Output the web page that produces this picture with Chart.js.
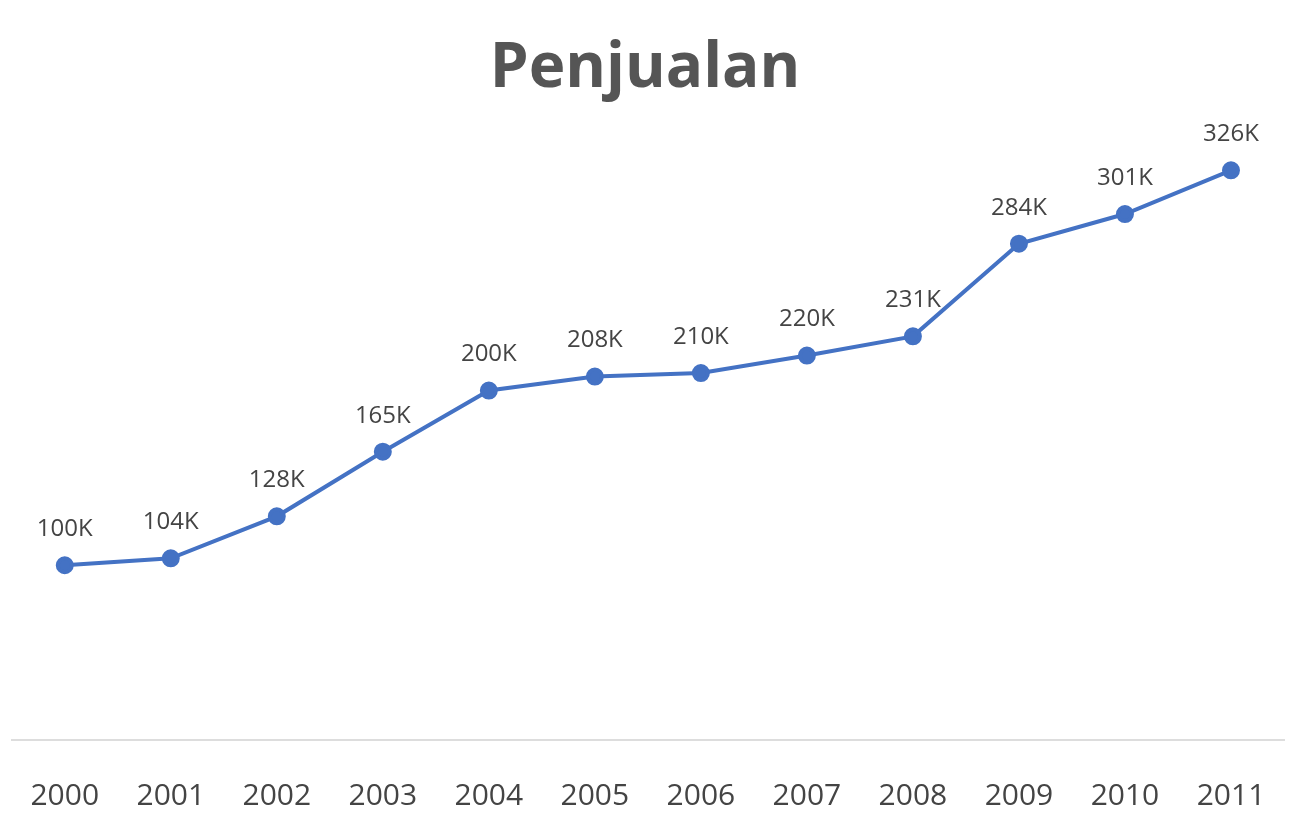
<!DOCTYPE html>
<html>
<head>
<meta charset="UTF-8" />
<style>
  html, body { margin: 0; padding: 0; background: #fff; }
  #wrap { width: 1296px; height: 816px; }
</style>
</head>
<body>
<div id="wrap"><canvas id="c" width="1296" height="816"></canvas></div>
<script src="https://cdn.jsdelivr.net/npm/chart.js"></script>
<script>
  const years = ['2000','2001','2002','2003','2004','2005','2006','2007','2008','2009','2010','2011'];
  const sales = [100, 104, 128, 165, 200, 208, 210, 220, 231, 284, 301, 326];

  // simple value labels above points
  const valueLabels = {
    id: 'valueLabels',
    afterDatasetsDraw(chart) {
      const ctx = chart.ctx;
      const meta = chart.getDatasetMeta(0);
      ctx.save();
      ctx.font = '24px "Open Sans", sans-serif';
      ctx.fillStyle = '#444';
      ctx.textAlign = 'center';
      ctx.textBaseline = 'bottom';
      meta.data.forEach((pt, i) => {
        ctx.fillText(sales[i] + 'K', pt.x, pt.y - 24);
      });
      ctx.restore();
    }
  };

  new Chart(document.getElementById('c'), {
    type: 'line',
    data: {
      labels: years,
      datasets: [{
        data: sales,
        borderColor: '#4472c4',
        backgroundColor: '#4472c4',
        borderWidth: 4,
        pointRadius: 7,
        tension: 0
      }]
    },
    options: {
      responsive: false,
      animation: false,
      layout: { padding: { left: 6, right: 12, top: 0, bottom: -28 } },
      plugins: {
        legend: { display: false },
        tooltip: { enabled: false },
        title: {
          display: true,
          text: 'Penjualan',
          color: '#555',
          font: { size: 62, weight: 'bold', family: '"Open Sans", sans-serif' },
          padding: { top: 32, bottom: 22 }
        }
      },
      scales: {
        y: { display: false, min: 0, max: 350 },
        x: {
          offset: true,
          grid: { display: false },
          border: { color: '#ddd', width: 2 },
          ticks: {
            color: '#444',
            padding: 30,
            font: { size: 30, family: '"Open Sans", sans-serif' }
          }
        }
      }
    },
    plugins: [valueLabels]
  });
</script>
</body>
</html>
